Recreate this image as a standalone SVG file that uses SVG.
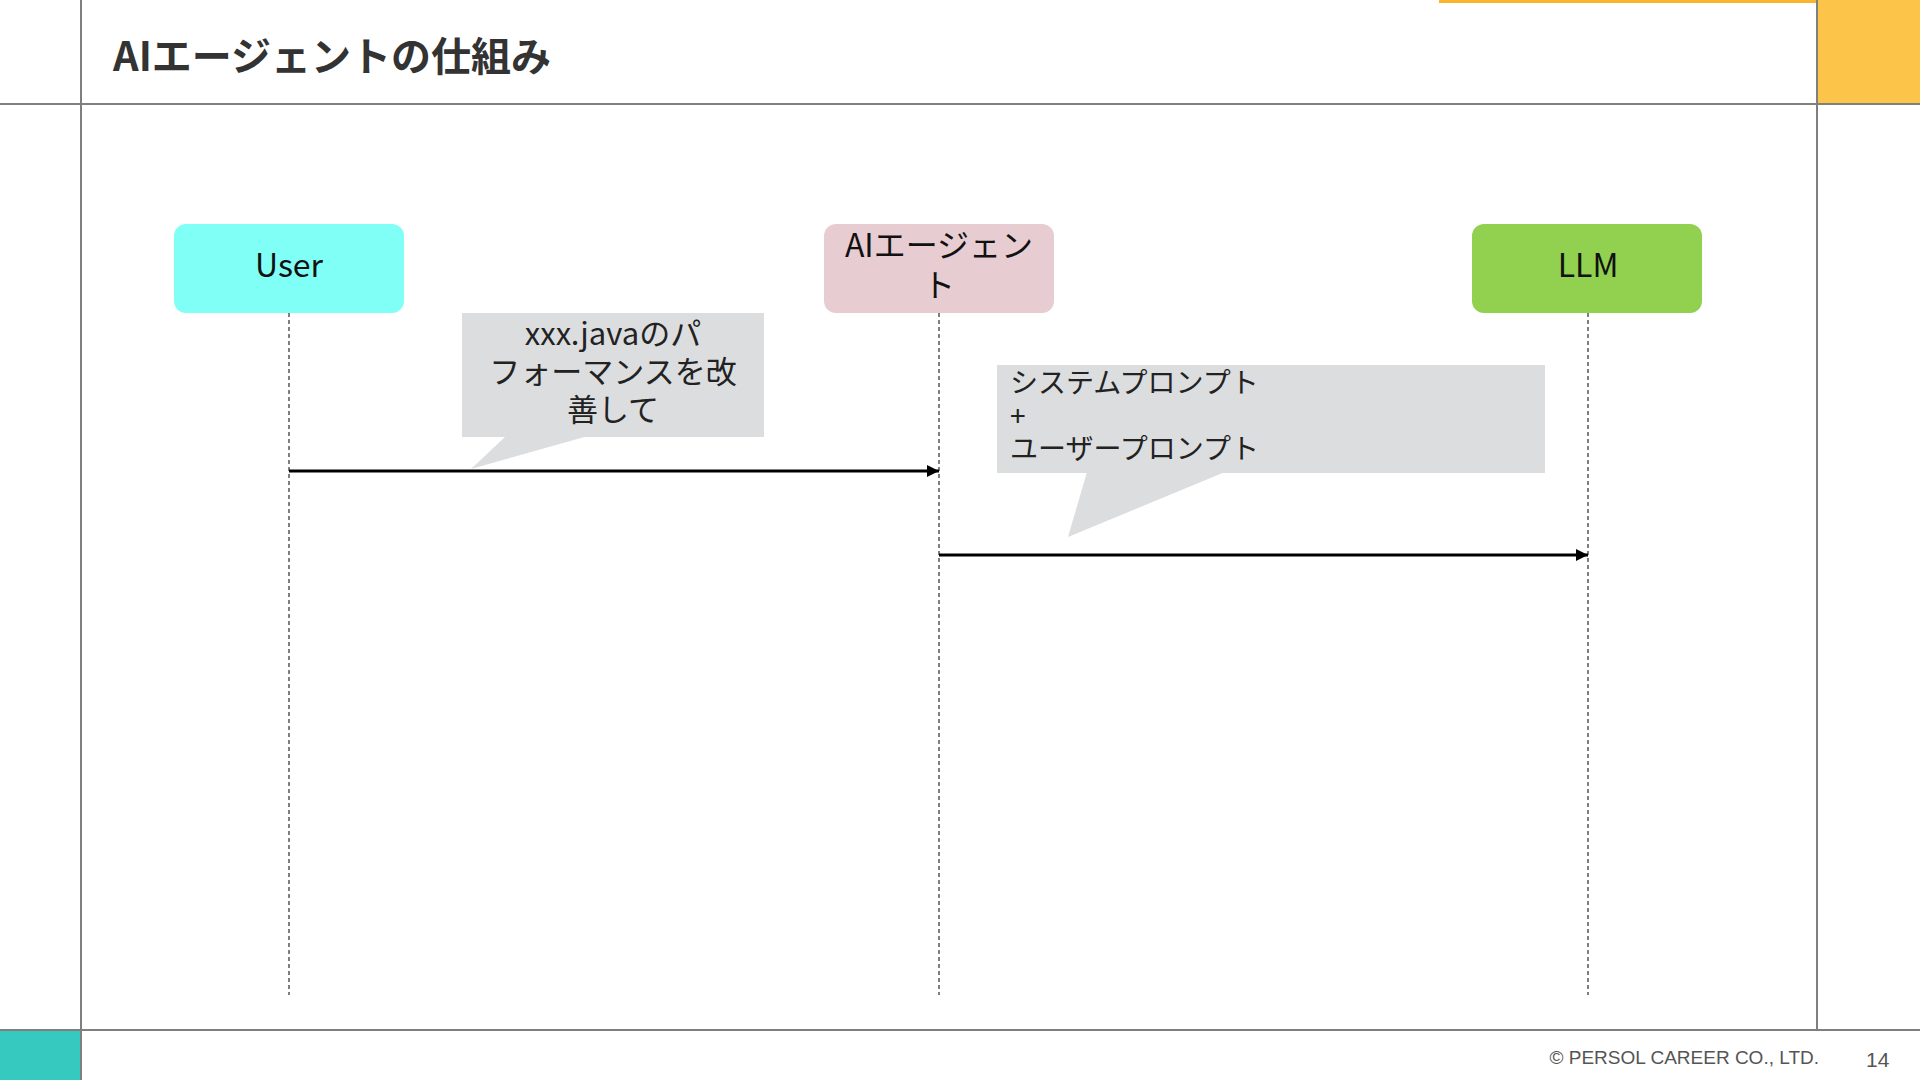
<svg xmlns="http://www.w3.org/2000/svg" width="1920" height="1080" viewBox="0 0 1920 1080">
<defs>
<style>
.frame{stroke:#7f7f7f;stroke-width:2;fill:none}
.node-text{font-family:"Noto Sans CJK JP","Liberation Sans",sans-serif;font-size:32px;fill:#111;text-anchor:middle}
.life{stroke:#555;stroke-width:1.5;stroke-dasharray:4 3;fill:none}
.msg{stroke:#000;stroke-width:3;fill:none}
.bubble{fill:#dcdddf}
.btext{font-family:"Noto Sans CJK JP","Liberation Sans",sans-serif;fill:#222}
</style>
<marker id="arr" viewBox="0 0 10 10" refX="10" refY="5" markerWidth="4" markerHeight="4" orient="auto" markerUnits="strokeWidth">
<path d="M0,0 L10,5 L0,10 z" fill="#000"/>
</marker>
</defs>
<rect width="1920" height="1080" fill="#fff"/>
<g id="frame">
<rect x="1817" y="0" width="103" height="104" fill="#fdc44a"/>
<rect x="1439" y="0" width="378" height="3" fill="#f9b52e"/>
<rect x="0" y="1030" width="81" height="50" fill="#35c9c0"/>
<line class="frame" x1="0" y1="104" x2="1920" y2="104"/>
<line class="frame" x1="0" y1="1030" x2="1920" y2="1030"/>
<line class="frame" x1="81" y1="0" x2="81" y2="1080"/>
<line class="frame" x1="1817" y1="0" x2="1817" y2="1030"/>
</g>
<text x="113" y="71" font-family="'Noto Sans CJK JP','Liberation Sans',sans-serif" font-size="40" font-weight="bold" fill="#333">AIエージェントの仕組み</text>
<g id="lifelines">
<line class="life" x1="289" y1="313" x2="289" y2="995"/>
<line class="life" x1="939" y1="313" x2="939" y2="995"/>
<line class="life" x1="1588" y1="313" x2="1588" y2="995"/>
</g>
<g id="node-user">
<rect x="174" y="224" width="230" height="89" rx="12" fill="#80fff6"/>
<text class="node-text" x="289" y="277">User</text>
</g>
<g id="node-agent">
<rect x="824" y="224" width="230" height="89" rx="12" fill="#e7cdd2"/>
<text class="node-text" x="939" y="257">AIエージェン</text>
<text class="node-text" x="939" y="297">ト</text>
</g>
<g id="node-llm">
<rect x="1472" y="224" width="230" height="89" rx="12" fill="#92d050"/>
<text class="node-text" x="1588" y="277">LLM</text>
</g>
<g id="bubble-1">
<rect class="bubble" x="462" y="313" width="302" height="124"/>
<path class="bubble" d="M506,436 L588,436 L471,469 z"/>
<text class="btext" font-size="31" text-anchor="middle"><tspan x="613" y="345">xxx.javaのパ</tspan><tspan x="613" y="383">フォーマンスを改</tspan><tspan x="613" y="421">善して</tspan></text>
</g>
<g id="bubble-2">
<rect class="bubble" x="997" y="365" width="548" height="108"/>
<path class="bubble" d="M1087,472 L1225,472 L1068,537 z"/>
<text class="btext" font-size="28"><tspan x="1010" y="393">システムプロンプト</tspan><tspan x="1010" y="426">+</tspan><tspan x="1010" y="459">ユーザープロンプト</tspan></text>
</g>
<g id="connectors">
<line class="msg" x1="289" y1="471" x2="939" y2="471" marker-end="url(#arr)"/>
<line class="msg" x1="939" y1="555" x2="1588" y2="555" marker-end="url(#arr)"/>
</g>
<text x="1819" y="1064" font-family="'Liberation Sans',Arial,sans-serif" font-size="19" fill="#555" text-anchor="end">© PERSOL CAREER CO., LTD.</text>
<text x="1866" y="1067" font-family="'Liberation Sans',Arial,sans-serif" font-size="21" fill="#555">14</text>
</svg>
